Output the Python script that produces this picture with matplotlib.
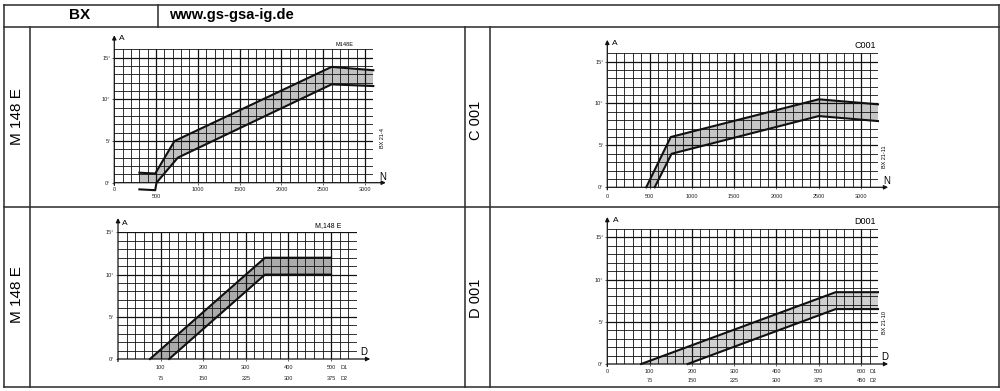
import numpy as np
import matplotlib
matplotlib.use("Agg")
import matplotlib.pyplot as plt
from matplotlib.lines import Line2D

# values
# M 148 E : A over N
m148_up_n = [300, 490, 720, 2600, 3100]
m148_up_a = [1.2, 1.1, 5.0, 13.9, 13.5]
m148_lo_n = [300, 490, 505, 760, 2600, 3100]
m148_lo_a = [-0.8, -0.9, 0.0, 3.0, 11.8, 11.6]
m148_n_ticks = [0, 1000, 1500, 2000, 2500, 3000]

# C 001 : A over N
c001_up_n = [460, 750, 2500, 3200]
c001_up_a = [0.0, 6.0, 10.5, 9.9]
c001_lo_n = [560, 760, 2500, 3200]
c001_lo_a = [0.0, 4.0, 8.5, 7.9]
c001_n_ticks = [0, 500, 1000, 1500, 2000, 2500, 3000]

# M 148 E : A over D
m148d_up_d = [75, 345, 500]
m148d_up_a = [0.0, 12.0, 12.0]
m148d_lo_d = [120, 345, 500]
m148d_lo_a = [0.0, 10.0, 10.0]
m148d_d1 = [100, 200, 300, 400, 500]
m148d_d2 = [75, 150, 225, 300, 375]

# D 001 : A over D
d001_up_d = [80, 540, 640]
d001_up_a = [0.0, 8.5, 8.5]
d001_lo_d = [190, 540, 640]
d001_lo_a = [0.0, 6.5, 6.5]
d001_d1 = [0, 100, 200, 300, 400, 500, 600]
d001_d2 = [75, 150, 225, 300, 375, 450]

a_ticks = [0, 5, 10, 15]

plt.rcParams['font.family'] = ['Liberation Sans', 'DejaVu Sans']

W, H = 1000, 391
fig = plt.figure(figsize=(W / 100, H / 100), dpi=100)
fig.patch.set_facecolor('white')


def fx(x):
    return x / W


def fy(y):
    return 1 - y / H


def line(x0, y0, x1, y1, lw=1.1):
    fig.add_artist(Line2D([fx(x0), fx(x1)], [fy(y0), fy(y1)], transform=fig.transFigure,
                          color='#2a2a2a', lw=lw))


def ftext(x, y, s, **kw):
    fig.text(fx(x), fy(y), s, ha='center', va='center', **kw)


# table frame
line(4, 5, 999, 5)
line(4, 27, 999, 27)
line(4, 207, 999, 207)
line(4, 387, 999, 387)
line(4, 5, 4, 387)
line(999, 5, 999, 387)
line(158, 5, 158, 27)
line(30, 27, 30, 387)
line(465, 27, 465, 387)
line(490, 27, 490, 387)

ftext(80, 15, 'BX', fontsize=11, fontweight='bold')
fig.text(fx(169), fy(15), 'www.gs-gsa-ig.de', ha='left', va='center', fontsize=10.5, fontweight='bold')
ftext(17, 117, 'M 148 E', fontsize=11, rotation=90)
ftext(17, 295, 'M 148 E', fontsize=11, rotation=90)
ftext(476, 120, 'C 001', fontsize=10.5, rotation=90)
ftext(476, 298, 'D 001', fontsize=10.5, rotation=90)


def panel(box, xmax, ymax, xstep, xmajor, up_x, up_y, lo_x, lo_y, fillc, xtip, ytip):
    x0, x1, y0, y1 = box
    ax = fig.add_axes([fx(x0), fy(y1), (x1 - x0) / W, (y1 - y0) / H])
    ax.set_xlim(0, xmax)
    ax.set_ylim(0, ymax)
    for s in ax.spines.values():
        s.set_visible(False)
    ax.patch.set_alpha(0)

    # band
    fill_lo = np.clip(lo_y, 0, None)
    px = list(up_x) + list(lo_x)[::-1]
    py = list(up_y) + list(fill_lo)[::-1]
    ax.fill(px, py, color=fillc, lw=0, zorder=1)

    # grid
    for v in np.arange(xstep, xmax + 1, xstep):
        major = abs(v % xmajor) < 1e-6
        ax.axvline(v, color='#111111', lw=0.9 if major else 0.6, zorder=2)
    for v in np.arange(1, ymax + 1, 1):
        major = v % 5 == 0
        ax.axhline(v, color='#111111', lw=0.9 if major else 0.6, zorder=2)

    ax.plot(up_x, up_y, color='#111111', lw=1.5, zorder=3, clip_on=False)
    ax.plot(lo_x, lo_y, color='#111111', lw=1.5, zorder=3, clip_on=False)

    # axes with arrows
    arr = dict(arrowstyle='-|>', color='#111111', lw=0.9, mutation_scale=6, shrinkA=0, shrinkB=0)
    ax.annotate('', xy=(xtip, 0), xytext=(0, 0), arrowprops=arr, annotation_clip=False)
    ax.annotate('', xy=(0, ytip), xytext=(0, -0.3), arrowprops=arr, annotation_clip=False)

    ax.set_yticks(a_ticks, [f'{v}°' for v in a_ticks])
    ax.tick_params(labelsize=4, length=1.5, width=0.5, pad=1.2, colors='#222222')
    return ax


# top left
ax1 = panel((114.3, 373.3, 49.4, 182.7), 3100, 16, 100, 500,
            m148_up_n, m148_up_a, m148_lo_n, m148_lo_a, '#c2c2c2', 3250, 17.7)
ax1.set_xticks(m148_n_ticks, [str(v) for v in m148_n_ticks])
ax1.tick_params(axis='x', pad=1.8)
ax1.text(500, -1.6, '500', ha='center', va='center', fontsize=4, color='#222222')
ftext(345, 45, 'M148E', fontsize=4)
ftext(382, 138, 'BX 21-4', fontsize=4, rotation=90)
ftext(121.7, 39, 'A', fontsize=6)
ftext(382.7, 176.7, 'N', fontsize=7)

# top right
ax2 = panel((607.3, 878, 53.2, 187.3), 3200, 16, 100, 500,
            c001_up_n, c001_up_a, c001_lo_n, c001_lo_a, '#c6c6c6', 3320, 17.6)
ax2.set_xticks(c001_n_ticks, [str(v) for v in c001_n_ticks])
ax2.tick_params(axis='x', pad=3.2)
ftext(865, 45, 'C001', fontsize=6.5)
ftext(885, 157, 'BX 21-11', fontsize=4, rotation=90)
ftext(615, 43.3, 'A', fontsize=6)
ftext(886.7, 180.7, 'N', fontsize=7)

# bottom left
ax3 = panel((118, 356.6, 232.4, 359), 560, 15, 20, 100,
            m148d_up_d, m148d_up_a, m148d_lo_d, m148d_lo_a, '#ababab', 592, 16.7)
ax3.set_xticks(m148d_d1, [str(v) for v in m148d_d1])
ax3.tick_params(axis='x', pad=2.5)
for d1, d2 in zip(m148d_d1, m148d_d2):
    ax3.annotate(str(d2), xy=(d1, 0), xytext=(0, -19.3), textcoords='offset pixels',
                 ha='center', va='center', fontsize=4, color='#222222', annotation_clip=False)
ax3.annotate('D1', xy=(530, 0), xytext=(0, -8.3), textcoords='offset pixels',
             ha='center', va='center', fontsize=4, color='#222222', annotation_clip=False)
ax3.annotate('D2', xy=(530, 0), xytext=(0, -19.3), textcoords='offset pixels',
             ha='center', va='center', fontsize=4, color='#222222', annotation_clip=False)
ftext(328, 226, 'M,148 E', fontsize=5)
ftext(125, 223.3, 'A', fontsize=6)
ftext(363.3, 351.7, 'D', fontsize=7)

# bottom right
ax4 = panel((607.3, 878, 228.8, 364), 640, 16, 20, 100,
            d001_up_d, d001_up_a, d001_lo_d, d001_lo_a, '#d0d0d0', 664, 17.4)
ax4.set_xticks(d001_d1, [str(v) for v in d001_d1])
ax4.tick_params(axis='x', pad=2.0)
for d1, d2 in zip(d001_d1[1:], d001_d2):
    ax4.annotate(str(d2), xy=(d1, 0), xytext=(0, -16), textcoords='offset pixels',
                 ha='center', va='center', fontsize=4, color='#222222', annotation_clip=False)
ax4.annotate('D1', xy=(629, 0), xytext=(0, -7.7), textcoords='offset pixels',
             ha='center', va='center', fontsize=4, color='#222222', annotation_clip=False)
ax4.annotate('D2', xy=(629, 0), xytext=(0, -16), textcoords='offset pixels',
             ha='center', va='center', fontsize=4, color='#222222', annotation_clip=False)
ftext(865, 222, 'D001', fontsize=6.5)
ftext(885, 323, 'BX 21-10', fontsize=4, rotation=90)
ftext(615.7, 220, 'A', fontsize=6)
ftext(885, 356.7, 'D', fontsize=7)

fig.savefig('out.png', dpi=100)
